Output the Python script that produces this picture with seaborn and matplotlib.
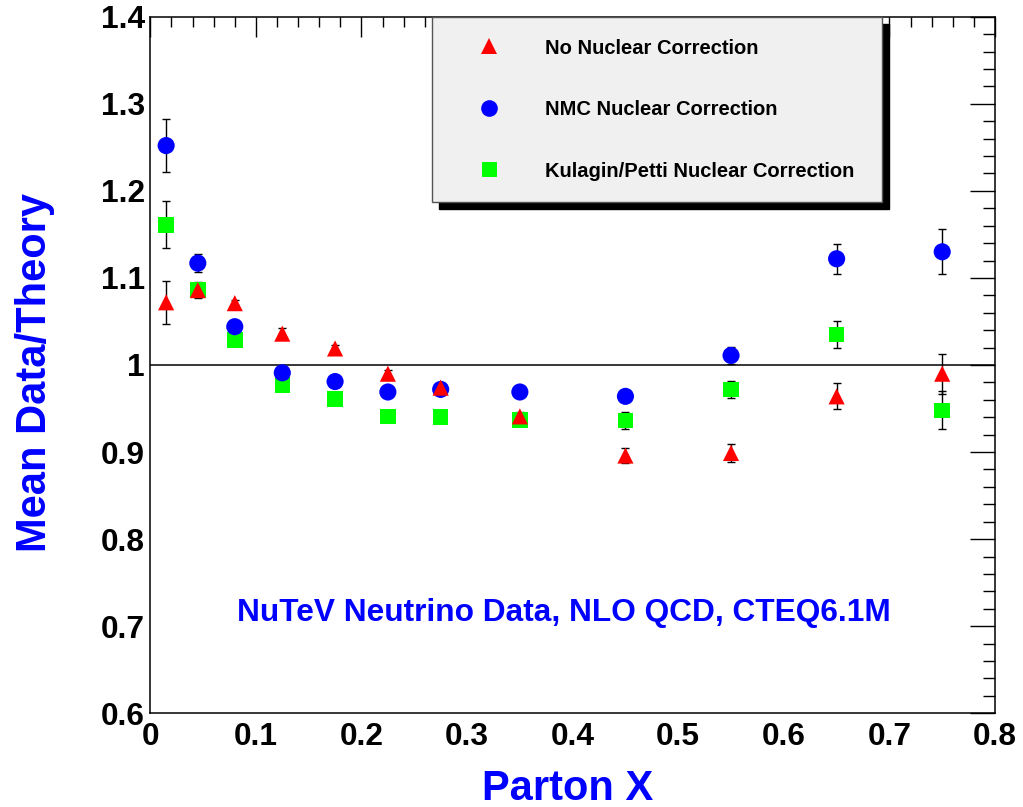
import numpy as np
import pandas as pd
import matplotlib
matplotlib.use("Agg")
import matplotlib.pyplot as plt
import seaborn as sns
from matplotlib.lines import Line2D
from matplotlib.ticker import MultipleLocator, FuncFormatter

# ---------------- data ----------------
parton_x = [0.015, 0.045, 0.08, 0.125, 0.175, 0.225, 0.275, 0.35, 0.45, 0.55, 0.65, 0.75]

no_corr = [1.072, 1.086, 1.071, 1.036, 1.019, 0.990, 0.974, 0.941, 0.896, 0.899, 0.964, 0.990]
no_corr_err = [0.025, 0.008, 0.004, 0.006, 0.004, 0.004, 0.004, 0.005, 0.009, 0.010, 0.015, 0.023]

nmc = [1.252, 1.117, 1.044, 0.991, 0.981, 0.969, 0.972, 0.969, 0.964, 1.011, 1.122, 1.130]
nmc_err = [0.030, 0.010, 0.005, 0.004, 0.004, 0.004, 0.004, 0.005, 0.006, 0.010, 0.017, 0.026]

kp = [1.161, 1.086, 1.029, 0.977, 0.961, 0.941, 0.940, 0.937, 0.936, 0.972, 1.035, 0.948]
kp_err = [0.027, 0.009, 0.005, 0.004, 0.004, 0.004, 0.004, 0.005, 0.010, 0.010, 0.016, 0.022]

labels = ["No Nuclear Correction", "NMC Nuclear Correction", "Kulagin/Petti Nuclear Correction"]
annotation = "NuTeV Neutrino Data, NLO QCD, CTEQ6.1M"
x_label = "Parton X"
y_label = "Mean Data/Theory"

# ---------------- style ----------------
sns.set_style("white")
plt.rcParams['font.family'] = ['Liberation Sans', 'DejaVu Sans']
plt.rcParams['font.weight'] = 'bold'

fig = plt.figure(figsize=(10.23, 8.07), dpi=100)
ax = fig.add_axes([150.3 / 1023, 1 - 713.3 / 807, (995 - 150.3) / 1023, (713.3 - 16.7) / 807])

colors = {labels[0]: "#ff0000", labels[1]: "#0000ff", labels[2]: "#00ff00"}
markers = {labels[0]: "^", labels[1]: "o", labels[2]: "s"}
sizes = {labels[0]: 135, labels[1]: 152, labels[2]: 125}

# draw order: green, blue, red (red on top)
frames = []
for lab, vals, errs in [(labels[2], kp, kp_err), (labels[1], nmc, nmc_err), (labels[0], no_corr, no_corr_err)]:
    frames.append(pd.DataFrame({"x": parton_x, "y": vals, "err": errs, "series": lab}))
df = pd.concat(frames, ignore_index=True)

# error bars
for lab in [labels[2], labels[1], labels[0]]:
    sub = df[df.series == lab]
    ax.errorbar(sub.x, sub.y, yerr=sub.err, fmt='none', ecolor='black',
                elinewidth=1.0, capsize=2.6, capthick=1.0, zorder=2)

ax.axhline(1.0, color='black', lw=1.1, zorder=1.5)

sns.scatterplot(data=df, x="x", y="y", hue="series", style="series", size="series",
                palette=colors, markers=markers, sizes=sizes, hue_order=labels,
                style_order=labels, size_order=labels,
                linewidth=0, edgecolor='none', ax=ax, legend=False, zorder=3)

# ---------------- axes ----------------
ax.set_xlim(0, 0.8)
ax.set_ylim(0.6, 1.4)
ax.xaxis.set_major_locator(MultipleLocator(0.1))
ax.xaxis.set_minor_locator(MultipleLocator(0.02))
ax.yaxis.set_major_locator(MultipleLocator(0.1))
ax.yaxis.set_minor_locator(MultipleLocator(0.02))
fmt = FuncFormatter(lambda v, p: f"{round(v, 3):g}")
ax.xaxis.set_major_formatter(fmt)
ax.yaxis.set_major_formatter(fmt)

ax.tick_params(axis='both', which='both', direction='in', top=True, right=True,
               colors='black', width=1.0)
ax.tick_params(axis='x', which='major', length=14.4, pad=6, labelsize=22.8)
ax.tick_params(axis='x', which='minor', length=7.2)
ax.tick_params(axis='y', which='major', length=18, pad=4, labelsize=22.8)
ax.tick_params(axis='y', which='minor', length=9)
for lbl in ax.get_xticklabels() + ax.get_yticklabels():
    lbl.set_fontweight('bold')

for s in ax.spines.values():
    s.set_visible(True)
    s.set_color('black')
    s.set_linewidth(1.1)

ax.set_xlabel(x_label, fontsize=30, fontweight='bold', color='#0000ff')
ax.set_ylabel(y_label, fontsize=30, fontweight='bold', color='#0000ff')
ax.xaxis.label.set_va('baseline')
ax.yaxis.label.set_va('baseline')
ax.xaxis.set_label_coords((568 - 150.3) / 844.7, -(800 - 713.3) / 696.6)
ax.yaxis.set_label_coords(-(150.3 - 46) / 844.7, (713.3 - 373) / 696.6)

ax.text(0.3918, 0.7152, annotation, ha='center', va='center', fontsize=22.8,
        fontweight='bold', color='#0000ff')

# ---------------- legend ----------------
handles = [Line2D([], [], ls='none', marker=markers[l], color=colors[l],
                  markeredgewidth=0, markersize=ms) for l, ms in zip(labels, [11.3, 12, 10.8])]
leg = ax.legend(handles, labels, loc='upper left',
                bbox_to_anchor=(432 / 1023, 1 - 17 / 807, 450 / 1023, 0),
                bbox_transform=fig.transFigure, mode='expand', borderaxespad=0,
                borderpad=1.07, handlelength=3.55, handletextpad=0.99, labelspacing=2.11,
                prop={'weight': 'bold', 'size': 14.5}, frameon=True, fancybox=False,
                facecolor='#f0f0f0', edgecolor='#555555', framealpha=1,
                shadow={'ox': 5, 'oy': -5, 'color': 'black', 'alpha': 1})
leg.get_frame().set_linewidth(1.0)
for t in leg.get_texts():
    t.set_color('black')

fig.savefig("out.png", dpi=100)
